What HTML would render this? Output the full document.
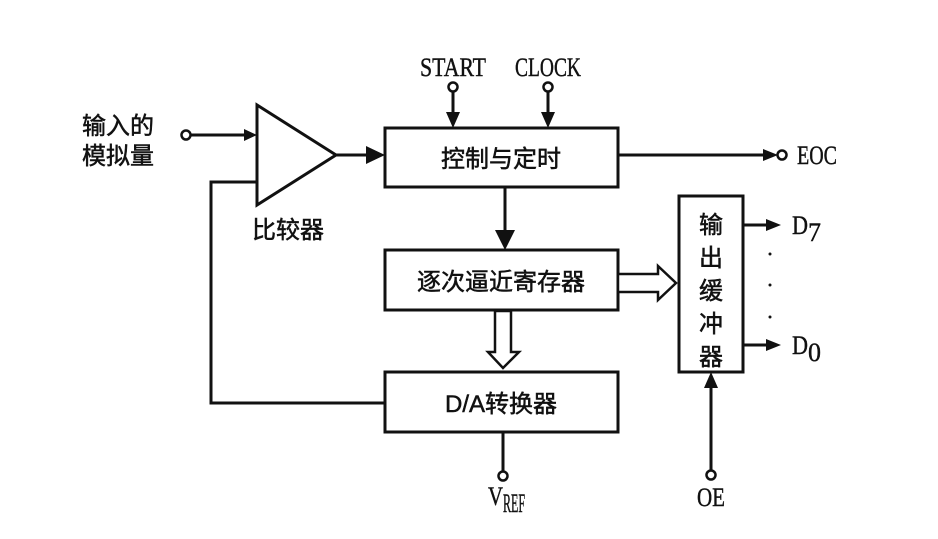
<!DOCTYPE html>
<html><head><meta charset="utf-8"><style>
html,body{margin:0;padding:0;background:#fff;}
svg{display:block;}
.cn{font-family:"Liberation Sans","Noto Sans CJK SC",sans-serif;font-size:24px;fill:#111;stroke:#111;stroke-width:0.5;}
.lt{font-family:"Liberation Serif",serif;font-size:26px;fill:#111;stroke:#111;stroke-width:0.4;}
</style></head><body>
<svg width="938" height="539" viewBox="0 0 938 539" xmlns="http://www.w3.org/2000/svg">
<g stroke="#111" stroke-width="3" fill="none">
<rect x="385" y="128" width="233" height="59"/>
<rect x="385" y="250" width="233" height="60"/>
<rect x="385" y="372" width="233" height="60"/>
<rect x="679" y="196" width="64" height="176"/>
<polygon points="257,105 257,205 336,155"/>
<line x1="190" y1="135" x2="245" y2="135"/>
<polyline points="385,403 211,403 211,182 257,182"/>
<line x1="336" y1="155" x2="368" y2="155"/>
<line x1="505" y1="187" x2="505" y2="232"/>
<line x1="453" y1="90" x2="453" y2="114"/>
<line x1="548" y1="90" x2="548" y2="114"/>
<line x1="618" y1="155" x2="765" y2="155"/>
<line x1="503" y1="432" x2="503" y2="472"/>
<line x1="711" y1="471" x2="711" y2="386"/>
<line x1="743" y1="225" x2="768" y2="225"/>
<line x1="743" y1="345" x2="768" y2="345"/>
</g>
<g fill="#111">
<polygon points="244,129 257,135 244,141"/>
<polygon points="366,146 385,155 366,164"/>
<polygon points="495,230 505,250 515,230"/>
<polygon points="446,112 453,128 460,112"/>
<polygon points="541,112 548,128 555,112"/>
<polygon points="763,149 778,155 763,161"/>
<polygon points="704,388 711,372 718,388"/>
<polygon points="766,219 781,225 766,231"/>
<polygon points="766,339 781,345 766,351"/>
<circle cx="770" cy="254" r="1.5"/><circle cx="770" cy="285" r="1.5"/><circle cx="770" cy="317" r="1.5"/>
</g>
<g stroke="#111" stroke-width="2.5" fill="#fff">
<polygon points="618,274 658,274 658,266 676,283 658,300 658,292 618,292"/>
<polygon points="495,311 511,311 511,352 519,352 503,368 488,352 495,352"/>
<circle cx="186" cy="135" r="4.5"/>
<circle cx="453" cy="87" r="4.5"/>
<circle cx="548" cy="87" r="4.5"/>
<circle cx="782" cy="155" r="4.5"/>
<circle cx="503" cy="476" r="4.5"/>
<circle cx="711" cy="475" r="4.5"/>
</g>
<text class="cn" x="82" y="134">输入的</text>
<text class="cn" x="82" y="164">模拟量</text>
<text class="cn" x="252" y="238">比较器</text>
<text class="cn" x="501" y="167" text-anchor="middle">控制与定时</text>
<text class="cn" x="501" y="290" text-anchor="middle">逐次逼近寄存器</text>
<text class="cn" x="501" y="412" text-anchor="middle">D/A转换器</text>
<text class="cn" x="711" y="233" text-anchor="middle">输</text>
<text class="cn" x="711" y="266" text-anchor="middle">出</text>
<text class="cn" x="711" y="299" text-anchor="middle">缓</text>
<text class="cn" x="711" y="332" text-anchor="middle">冲</text>
<text class="cn" x="711" y="365" text-anchor="middle">器</text>
<text class="lt" x="453" y="76" text-anchor="middle" textLength="66" lengthAdjust="spacingAndGlyphs">START</text>
<text class="lt" x="548" y="76" text-anchor="middle" textLength="66" lengthAdjust="spacingAndGlyphs">CLOCK</text>
<text class="lt" x="797" y="164" textLength="40" lengthAdjust="spacingAndGlyphs">EOC</text>
<text class="lt" x="792" y="234" textLength="16" lengthAdjust="spacingAndGlyphs">D</text>
<text class="lt" x="808" y="241" font-size="17">7</text>
<text class="lt" x="792" y="354" textLength="16" lengthAdjust="spacingAndGlyphs">D</text>
<text class="lt" x="808" y="361" font-size="17">0</text>
<text class="lt" x="488" y="505" textLength="15" lengthAdjust="spacingAndGlyphs">V</text>
<text class="lt" x="503" y="512" font-size="17" textLength="22" lengthAdjust="spacingAndGlyphs">REF</text>
<text class="lt" x="711" y="506" text-anchor="middle" textLength="28" lengthAdjust="spacingAndGlyphs">OE</text>
</svg>
</body></html>
